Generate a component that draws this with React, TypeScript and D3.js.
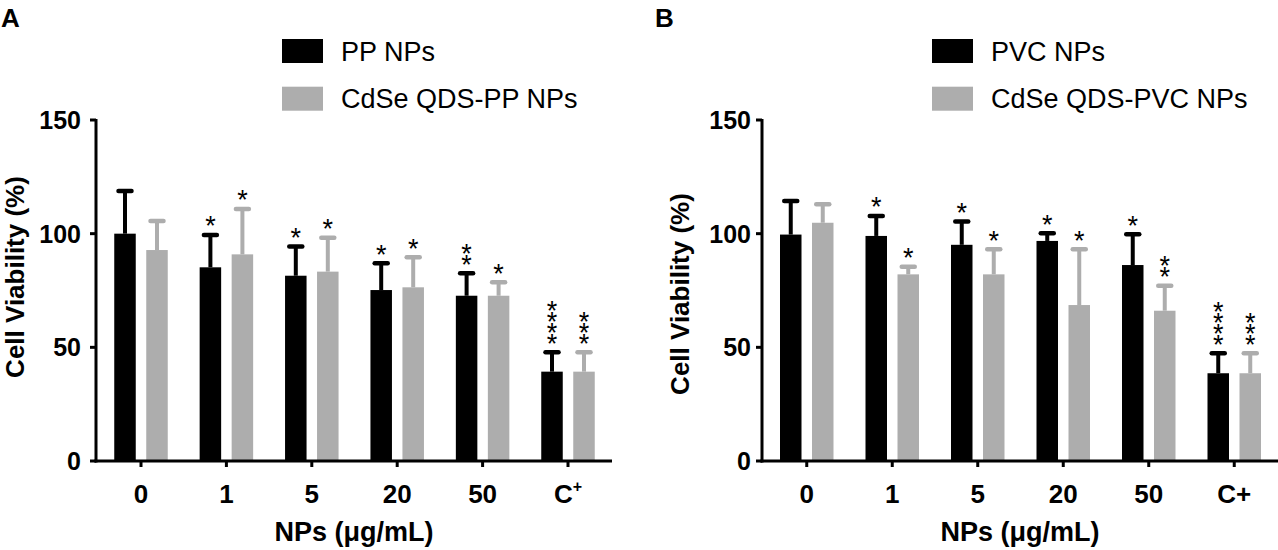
import React from "react";
import * as d3 from "d3";

const categories = ["0", "1", "5", "20", "50", "C+"];
const yTicks = [0, 50, 100, 150];

// Panel A
const ppMean = [100.0, 85.2, 81.5, 75.2, 72.7, 39.3];
const ppErr = [18.8, 14.2, 12.8, 11.8, 9.9, 8.5];
const qdsPpMean = [92.8, 90.9, 83.3, 76.4, 72.7, 39.3];
const qdsPpErr = [12.8, 20.0, 14.9, 13.2, 5.9, 8.5];
const ppStars = ["", "*", "*", "*", "**", "****"];
const qdsPpStars = ["", "*", "*", "*", "*", "***"];

// Panel B
const pvcMean = [99.6, 99.0, 95.1, 96.8, 86.2, 38.6];
const pvcErr = [14.8, 8.8, 10.2, 3.4, 13.5, 8.8];
const qdsPvcMean = [104.8, 82.1, 82.1, 68.6, 66.1, 38.6];
const qdsPvcErr = [8.1, 3.4, 11.0, 24.5, 11.0, 8.8];
const pvcStars = ["", "*", "*", "*", "*", "****"];
const qdsPvcStars = ["", "*", "*", "*", "**", "***"];

const BLACK = "#000000";
const GREY = "#adadad";
const FONT = "'Liberation Sans', Arial, Helvetica, sans-serif";

type PanelProps = {
  letter: string;
  letterX: number;
  axisX: number;
  bandStart: number;
  bandEnd: number;
  axisEnd: number;
  titleX: number;
  titleY: number;
  tickGap: number;
  legendX: number;
  legendNames: string[];
  means: number[][];
  errs: number[][];
  stars: string[][];
  superPlus: boolean;
};

function Panel(p: PanelProps) {
  const y = d3.scaleLinear().domain([0, 150]).range([461, 120]);
  const x = d3.scaleBand<string>().domain(categories).range([p.bandStart, p.bandEnd]).padding(0);
  const colors = [BLACK, GREY];
  const barW = 21.5;
  const gap = 10.5;
  const offsets = [-gap / 2 - barW, gap / 2];
  const capW = 13;
  const starSize = 27;
  const starStep = 10.8;

  return (
    <g>
      <text x={p.letterX} y={27} fontFamily={FONT} fontWeight="bold" fontSize={26}>
        {p.letter}
      </text>
      {/* legend */}
      {p.legendNames.map((n, i) => (
        <g key={n}>
          <rect x={p.legendX} y={39 + i * 47.7} width={41} height={24} fill={colors[i]} />
          <text x={p.legendX + 59} y={60.5 + i * 47.7} fontFamily={FONT} fontSize={27} fill="#000">
            {n}
          </text>
        </g>
      ))}
      {/* bars */}
      {p.means.map((series, si) =>
        series.map((v, ci) => {
          const cx = (x(categories[ci]) as number) + x.bandwidth() / 2;
          const bx = cx + offsets[si];
          const top = y(v);
          const errTop = y(v + p.errs[si][ci]);
          const mid = bx + barW / 2;
          const st = p.stars[si][ci];
          const baseY = errTop - 15 + starSize * 0.57;
          return (
            <g key={`${si}-${ci}`}>
              <rect x={bx} y={top} width={barW} height={y(0) - top} fill={colors[si]} />
              <line x1={mid} x2={mid} y1={top} y2={errTop} stroke={colors[si]} strokeWidth={4} />
              <line
                x1={mid - capW / 2}
                x2={mid + capW / 2}
                y1={errTop}
                y2={errTop}
                stroke={colors[si]}
                strokeWidth={4.5}
                strokeLinecap="round"
              />
              {st.length > 0 && (
                <text
                  x={mid}
                  y={baseY}
                  textAnchor="middle"
                  fontFamily={FONT}
                  fontSize={starSize}
                  fill="#000"
                >
                  {st.split("").map((s, k) => (
                    <tspan key={k} x={mid} dy={k === 0 ? 0 : -starStep}>
                      {s}
                    </tspan>
                  ))}
                </text>
              )}
            </g>
          );
        })
      )}
      {/* y axis */}
      <line x1={p.axisX} x2={p.axisX} y1={119} y2={462.5} stroke="#000" strokeWidth={3} />
      {yTicks.map((t) => (
        <g key={t}>
          <line x1={p.axisX - 6} x2={p.axisX} y1={y(t)} y2={y(t)} stroke="#000" strokeWidth={3} />
          <text
            x={p.axisX - p.tickGap}
            y={y(t) + 9}
            textAnchor="end"
            fontFamily={FONT}
            fontWeight="bold"
            fontSize={25}
          >
            {t}
          </text>
        </g>
      ))}
      <text
        transform={`translate(${p.titleX},${p.titleY}) rotate(-90)`}
        textAnchor="middle"
        dominantBaseline="central"
        fontFamily={FONT}
        fontWeight="bold"
        fontSize={26}
      >
        Cell Viability (%)
      </text>
      {/* x axis */}
      <line x1={p.axisX - 1.5} x2={p.axisEnd} y1={y(0)} y2={y(0)} stroke="#000" strokeWidth={3} />
      {categories.map((c) => {
        const cx = (x(c) as number) + x.bandwidth() / 2;
        return (
          <g key={c}>
            <line x1={cx} x2={cx} y1={y(0)} y2={y(0) + 6} stroke="#000" strokeWidth={3} />
            <text x={cx} y={503} textAnchor="middle" fontFamily={FONT} fontWeight="bold" fontSize={26}>
              {c === "C+" && p.superPlus ? (
                <>
                  C
                  <tspan fontSize={16} dy={-11}>
                    +
                  </tspan>
                </>
              ) : (
                c
              )}
            </text>
          </g>
        );
      })}
      <text
        x={(p.axisX + p.axisEnd) / 2}
        y={541}
        textAnchor="middle"
        fontFamily={FONT}
        fontWeight="bold"
        fontSize={27}
      >
        NPs (μg/mL)
      </text>
    </g>
  );
}

export default function App() {
  return (
    <svg
      width={1278}
      height={550}
      style={{ position: "absolute", left: 0, top: 0, background: "#fff" }}
    >
      <rect width={1278} height={550} fill="#fff" />
      <Panel
        letter="A"
        letterX={1}
        axisX={96}
        bandStart={98.3}
        bandEnd={610.7}
        axisEnd={612}
        titleX={15}
        titleY={277}
        tickGap={15}
        legendX={282}
        legendNames={["PP NPs", "CdSe QDS-PP NPs"]}
        means={[ppMean, qdsPpMean]}
        errs={[ppErr, qdsPpErr]}
        stars={[ppStars, qdsPpStars]}
        superPlus={true}
      />
      <Panel
        letter="B"
        letterX={655}
        axisX={762}
        bandStart={764}
        bandEnd={1277}
        axisEnd={1278}
        titleX={680}
        titleY={294}
        tickGap={11}
        legendX={932}
        legendNames={["PVC NPs", "CdSe QDS-PVC NPs"]}
        means={[pvcMean, qdsPvcMean]}
        errs={[pvcErr, qdsPvcErr]}
        stars={[pvcStars, qdsPvcStars]}
        superPlus={false}
      />
    </svg>
  );
}
